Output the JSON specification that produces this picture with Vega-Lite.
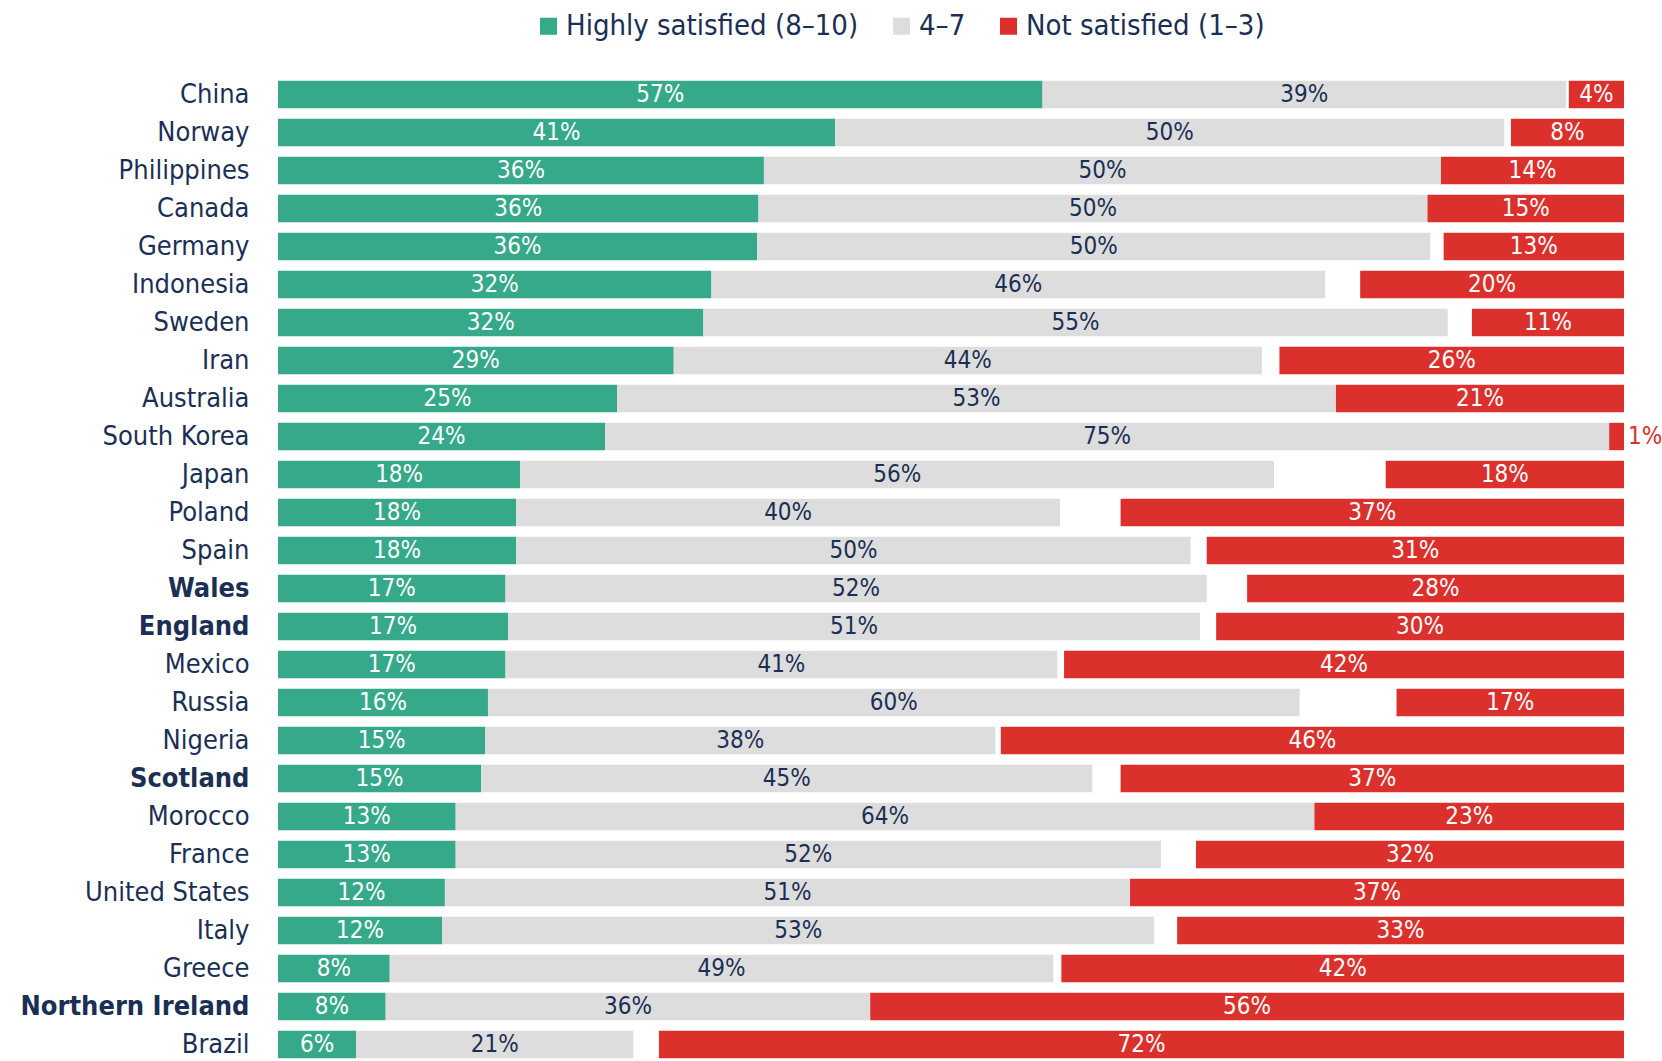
{
  "$schema": "https://vega.github.io/schema/vega-lite/v6.json",
  "autosize": {"type": "none"},
  "padding": {"left": 278, "top": 75.5, "right": 38, "bottom": 0},
  "width": 1346,
  "height": 988,
  "background": "white",
  "config": {
    "view": {"stroke": null},
    "font": "DejaVu Sans Condensed, Roboto, sans-serif",
    "text": {"font": "DejaVu Sans Condensed, Roboto, sans-serif"}
  },
  "data": {
    "values": [
      {"country": "China", "high": 0.568, "mid": 0.389, "low": 0.041},
      {"country": "Norway", "high": 0.414, "mid": 0.497, "low": 0.084},
      {"country": "Philippines", "high": 0.361, "mid": 0.503, "low": 0.136},
      {"country": "Canada", "high": 0.357, "mid": 0.497, "low": 0.146},
      {"country": "Germany", "high": 0.356, "mid": 0.5, "low": 0.134},
      {"country": "Indonesia", "high": 0.322, "mid": 0.456, "low": 0.196},
      {"country": "Sweden", "high": 0.316, "mid": 0.553, "low": 0.113},
      {"country": "Iran", "high": 0.294, "mid": 0.437, "low": 0.256},
      {"country": "Australia", "high": 0.252, "mid": 0.534, "low": 0.214},
      {"country": "South Korea", "high": 0.243, "mid": 0.746, "low": 0.011},
      {"country": "Japan", "high": 0.18, "mid": 0.56, "low": 0.177},
      {"country": "Poland", "high": 0.177, "mid": 0.404, "low": 0.374},
      {"country": "Spain", "high": 0.177, "mid": 0.501, "low": 0.31},
      {"country": "Wales", "high": 0.169, "mid": 0.521, "low": 0.28},
      {"country": "England", "high": 0.171, "mid": 0.514, "low": 0.303},
      {"country": "Mexico", "high": 0.169, "mid": 0.41, "low": 0.416},
      {"country": "Russia", "high": 0.156, "mid": 0.603, "low": 0.169},
      {"country": "Nigeria", "high": 0.154, "mid": 0.379, "low": 0.463},
      {"country": "Scotland", "high": 0.151, "mid": 0.454, "low": 0.374},
      {"country": "Morocco", "high": 0.132, "mid": 0.638, "low": 0.23},
      {"country": "France", "high": 0.132, "mid": 0.524, "low": 0.318},
      {"country": "United States", "high": 0.124, "mid": 0.509, "low": 0.367},
      {"country": "Italy", "high": 0.122, "mid": 0.529, "low": 0.332},
      {"country": "Greece", "high": 0.083, "mid": 0.493, "low": 0.418},
      {"country": "Northern Ireland", "high": 0.08, "mid": 0.36, "low": 0.56},
      {"country": "Brazil", "high": 0.058, "mid": 0.206, "low": 0.717}
    ]
  },
  "transform": [
    {"calculate": "datum.high + datum.mid", "as": "midEnd"},
    {"calculate": "1 - datum.low", "as": "lowStart"},
    {"calculate": "datum.high / 2", "as": "cHigh"},
    {"calculate": "datum.high + datum.mid / 2", "as": "cMid"},
    {"calculate": "1 - datum.low / 2", "as": "cLow"}
  ],
  "encoding": {
    "y": {
      "field": "country",
      "type": "nominal",
      "sort": null,
      "scale": {"paddingInner": 0.28, "paddingOuter": 0.14},
      "axis": {
        "title": null,
        "domain": false,
        "ticks": false,
        "labelPadding": 29,
        "labelFont": "DejaVu Sans Condensed, Roboto, sans-serif",
        "labelFontSize": 27,
        "labelColor": "#1b2f55",
        "labelLimit": 400,
        "labelFontWeight": {
          "condition": {"test": "indexof(['Wales','England','Scotland','Northern Ireland'], datum.value) >= 0", "value": "bold"},
          "value": "normal"
        }
      }
    }
  },
  "layer": [
    {
      "mark": {"type": "bar"},
      "encoding": {
        "x": {"field": "high", "type": "quantitative", "scale": {"domain": [0, 1], "nice": false}, "axis": null},
        "x2": {"datum": 0},
        "color": {
          "datum": "Highly satisfied (8–10)",
          "type": "nominal",
          "scale": {
            "domain": ["Highly satisfied (8–10)", "4–7", "Not satisfied (1–3)"],
            "range": ["#35a98a", "#dddddd", "#dc302c"]
          },
          "legend": {
            "title": null,
            "orient": "none",
            "direction": "horizontal",
            "legendX": 256,
            "legendY": -64,
            "symbolType": "square",
            "symbolSize": 289,
            "symbolStrokeWidth": 0,
            "labelFont": "DejaVu Sans Condensed, Roboto, sans-serif",
            "labelFontSize": 29,
            "labelColor": "#1b2f55",
            "labelOffset": 3,
            "labelLimit": 500,
            "columnPadding": 28
          }
        }
      }
    },
    {
      "mark": {"type": "bar"},
      "encoding": {
        "x": {"field": "high", "type": "quantitative"},
        "x2": {"field": "midEnd"},
        "color": {"datum": "4–7", "type": "nominal"}
      }
    },
    {
      "mark": {"type": "bar"},
      "encoding": {
        "x": {"field": "lowStart", "type": "quantitative"},
        "x2": {"datum": 1},
        "color": {"datum": "Not satisfied (1–3)", "type": "nominal"}
      }
    },
    {
      "mark": {"type": "text", "fontSize": 24, "color": "white", "baseline": "middle", "align": "center"},
      "encoding": {
        "x": {"field": "cHigh", "type": "quantitative"},
        "text": {"field": "high", "type": "quantitative", "format": ".0%"}
      }
    },
    {
      "mark": {"type": "text", "fontSize": 24, "color": "#1b2f55", "baseline": "middle", "align": "center"},
      "encoding": {
        "x": {"field": "cMid", "type": "quantitative"},
        "text": {"field": "mid", "type": "quantitative", "format": ".0%"}
      }
    },
    {
      "transform": [{"filter": "datum.low >= 0.02"}],
      "mark": {"type": "text", "fontSize": 24, "color": "white", "baseline": "middle", "align": "center"},
      "encoding": {
        "x": {"field": "cLow", "type": "quantitative"},
        "text": {"field": "low", "type": "quantitative", "format": ".0%"}
      }
    },
    {
      "transform": [{"filter": "datum.low < 0.02"}],
      "mark": {"type": "text", "fontSize": 24, "color": "#dc302c", "baseline": "middle", "align": "left", "dx": 4},
      "encoding": {
        "x": {"datum": 1, "type": "quantitative"},
        "text": {"field": "low", "type": "quantitative", "format": ".0%"}
      }
    }
  ]
}
